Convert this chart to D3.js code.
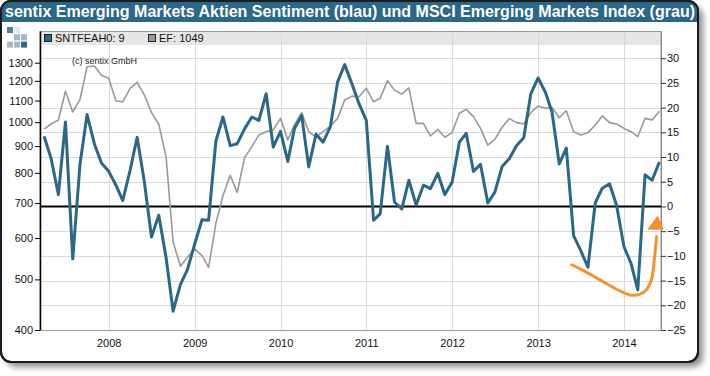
<!DOCTYPE html>
<html>
<head>
<meta charset="utf-8">
<script src="https://cdn.jsdelivr.net/npm/d3@7"></script>
<style>
  body { margin: 0; background: #fff; }
  svg { display: block; font-family: "Liberation Sans", Arial, sans-serif; }
</style>
</head>
<body>
<script>
// monthly data, Apr 2007 - Jun 2014
var startMonth = "2007-04-01";
var sentix = [14.2, 9.7, 2.4, 17.1, -10.6, 8.6, 18.6, 12.7, 8.8, 7.1,
  4.3, 1.2, 7.3, 14.0, 4.9, -6.2, -1.8, -10.3, -21.2, -15.8,
  -12.8, -7.6, -2.7, -2.8, 13.2, 18.1, 12.3, 12.7, 15.7, 18.1,
  17.4, 22.8, 12.0, 15.2, 9.1, 15.7, 18.4, 8.0, 14.6, 13.0,
  16.1, 25.2, 28.7, 24.8, 20.8, 17.4, -2.8, -1.5, 12.2, 0.9,
  -0.5, 5.3, 0.3, 4.3, 3.6, 6.7, 2.4, 4.9, 13.0, 14.8,
  7.1, 8.5, 0.7, 2.9, 8.1, 9.7, 12.3, 13.9, 22.8, 26.0,
  23.1, 19.1, 8.6, 11.8, -5.9, -8.9, -12.3, 0.7, 3.7, 4.6,
  0.2, -8.1, -11.6, -16.9, 6.4, 5.3, 9];
var msci = [970, 992, 1010, 1146, 1046, 1106, 1277, 1281, 1230, 1214,
  1098, 1094, 1161, 1192, 1127, 1044, 991, 859, 590, 530,
  551, 572, 555, 527, 640, 723, 791, 734, 855, 898,
  945, 959, 966, 1017, 925, 988, 1043, 959, 936, 959,
  983, 1017, 1103, 1122, 1119, 1161, 1094, 1111, 1201, 1152,
  1132, 1164, 995, 995, 941, 969, 936, 955, 1040, 1058,
  1025, 973, 904, 927, 978, 1016, 998, 992, 1043, 1074,
  1063, 1068, 1020, 1052, 959, 945, 955, 988, 1028, 998,
  992, 973, 959, 938, 1017, 1010, 1049];
var leftTicks = [400, 500, 600, 700, 800, 900, 1000, 1100, 1200, 1300];
var rightTicks = [-25, -20, -15, -10, -5, 0, 5, 10, 15, 20, 25, 30];
var yearTicks = [2008, 2009, 2010, 2011, 2012, 2013, 2014];
var legendItems = [
  { label: "SNTFEAH0: 9", color: "#2a6788" },
  { label: "EF: 1049", color: "#9a9a9a" }
];
// hand drawn orange arrow (date, sentiment value)
var arrowPath = [["2013-05-24", -11.8], ["2013-07-13", -13.0], ["2013-09-23", -14.9],
  ["2013-12-03", -16.8], ["2014-01-27", -17.9], ["2014-03-08", -17.8],
  ["2014-04-06", -16.9], ["2014-04-28", -14.9], ["2014-05-07", -12.2], ["2014-05-20", -6.1]];
var arrowHead = [["2014-05-24", -2.0], ["2014-04-14", -4.6], ["2014-06-17", -4.6]];
var title = "sentix Emerging Markets Aktien Sentiment (blau) und MSCI Emerging Markets Index (grau)";

var W = 710, H = 376;
var plot = { left: 40, right: 661, top: 31, bottom: 330 };
var parse = d3.timeParse("%Y-%m-%d");
var dates = sentix.map(function (d, i) { return d3.timeMonth.offset(parse(startMonth), i); });

// x: place Jan 2008 / Jan 2014 where the reference has them
var x0 = d3.scaleTime().domain([new Date(2008, 0, 1), new Date(2014, 0, 1)]).range([108.7, 623.9]);
var x = d3.scaleTime().domain([x0.invert(plot.left), x0.invert(plot.right)]).range([plot.left, plot.right]);
var yL = d3.scaleLog().domain([400, 1495]).range([plot.bottom, plot.top]);
var yR = d3.scaleLinear().domain([-25, 35.5]).range([plot.bottom, plot.top]);

var svg = d3.select("body").append("svg").attr("width", W).attr("height", H);
var defs = svg.append("defs");
var f = defs.append("filter").attr("id", "shadow").attr("x", "-5%").attr("y", "-5%").attr("width", "115%").attr("height", "120%");
f.append("feGaussianBlur").attr("stdDeviation", 3);

// frame + shadow
svg.append("rect").attr("x", 6).attr("y", 6).attr("width", 697).attr("height", 361).attr("rx", 10)
  .attr("fill", "#8a8a8a").attr("filter", "url(#shadow)");
svg.append("rect").attr("x", 1).attr("y", 1).attr("width", 697).attr("height", 361).attr("rx", 10)
  .attr("fill", "#fff").attr("stroke", "#1c1c1c").attr("stroke-width", 2);
defs.append("clipPath").attr("id", "frameclip").append("rect")
  .attr("x", 1).attr("y", 1).attr("width", 697).attr("height", 361).attr("rx", 10);
svg.append("rect").attr("x", 0).attr("y", 0).attr("width", W).attr("height", 22)
  .attr("fill", "#2a6788").attr("clip-path", "url(#frameclip)");
svg.append("rect").attr("x", 1).attr("y", 1).attr("width", 697).attr("height", 361).attr("rx", 10)
  .attr("fill", "none").attr("stroke", "#1c1c1c").attr("stroke-width", 2);
svg.append("text").attr("x", 5).attr("y", 17).attr("fill", "#fff")
  .attr("font-size", 16).attr("font-weight", "bold")
  .attr("textLength", 690).attr("lengthAdjust", "spacingAndGlyphs").text(title);

// logo squares
var logo = [[0, 0, "#4f7f9f"], [1, 0, "#dfe6ec"], [1, 1, "#a9b6c0"], [2, 1, "#a9b6c0"],
  [0, 2, "#a9b6c0"], [1, 2, "#a9b6c0"], [2, 2, "#2a6788"]];
svg.append("g").selectAll("rect").data(logo).enter().append("rect")
  .attr("x", function (d) { return 7 + d[0] * 7; })
  .attr("y", function (d) { return 27 + d[1] * 7.3; })
  .attr("width", 6).attr("height", 6).attr("fill", function (d) { return d[2]; });

// legend band
svg.append("rect").attr("x", plot.left).attr("y", plot.top).attr("width", plot.right - plot.left).attr("height", 14)
  .attr("fill", "#e6e6e6");

// grid
var grid = svg.append("g").attr("stroke", "#d9d9d9").attr("stroke-width", 1);
grid.selectAll(".v").data(yearTicks).enter().append("line")
  .attr("x1", function (d) { return Math.round(x(new Date(d, 0, 1))) + 0.5; })
  .attr("x2", function (d) { return Math.round(x(new Date(d, 0, 1))) + 0.5; })
  .attr("y1", plot.top).attr("y2", plot.bottom);
grid.selectAll(".h").data(rightTicks.filter(function (d) { return d !== 0 && d !== -25; })).enter().append("line")
  .attr("x1", plot.left).attr("x2", plot.right)
  .attr("y1", function (d) { return Math.round(yR(d)) + 0.5; })
  .attr("y2", function (d) { return Math.round(yR(d)) + 0.5; });

// plot border
svg.append("rect").attr("x", plot.left).attr("y", plot.top + 0.5).attr("width", plot.right - plot.left)
  .attr("height", plot.bottom - plot.top).attr("fill", "none").attr("stroke", "#999");

// legend
var lg = svg.append("g").attr("font-size", 11).attr("fill", "#111");
var lx = [44, 148];
legendItems.forEach(function (d, i) {
  lg.append("rect").attr("x", lx[i] + 0.5).attr("y", 34.5).attr("width", 7).attr("height", 7)
    .attr("fill", d.color).attr("stroke", "#222");
  lg.append("text").attr("x", lx[i] + 11).attr("y", 42).text(d.label);
});
svg.append("text").attr("x", 72).attr("y", 64).attr("font-size", 9).attr("fill", "#222").text("(c) sentix GmbH");

// zero line
svg.append("line").attr("x1", plot.left).attr("x2", plot.right)
  .attr("y1", yR(0)).attr("y2", yR(0)).attr("stroke", "#000").attr("stroke-width", 2);

// series
var grayLine = d3.line().x(function (d, i) { return x(dates[i]); }).y(function (d) { return yL(d); });
var blueLine = d3.line().x(function (d, i) { return x(dates[i]); }).y(function (d) { return yR(d); });
svg.append("path").datum(msci).attr("d", grayLine).attr("fill", "none")
  .attr("stroke", "#9a9a9a").attr("stroke-width", 1.6).attr("stroke-linejoin", "round");
svg.append("path").datum(sentix).attr("d", blueLine).attr("fill", "none")
  .attr("stroke", "#2a6788").attr("stroke-width", 3).attr("stroke-linejoin", "round");

// axes
var axL = svg.append("g").attr("transform", "translate(" + plot.left + ",0)")
  .call(d3.axisLeft(yL).tickValues(leftTicks).tickFormat(d3.format("d")).tickSize(5).tickSizeOuter(0));
var axR = svg.append("g").attr("transform", "translate(" + plot.right + ",0)")
  .call(d3.axisRight(yR).tickValues(rightTicks).tickFormat(d3.format("d")).tickSize(5).tickSizeOuter(0));
var axB = svg.append("g").attr("transform", "translate(0," + plot.bottom + ")")
  .call(d3.axisBottom(x).tickValues(yearTicks.map(function (d) { return new Date(d, 0, 1); }))
    .tickFormat(d3.timeFormat("%Y")).tickSize(0).tickPadding(9));
[axL, axR, axB].forEach(function (a) {
  a.selectAll("text").attr("font-size", 11).attr("fill", "#111").attr("font-family", "Liberation Sans, Arial, sans-serif");
});
axL.select(".domain").attr("stroke", "#000").attr("stroke-width", 1.5);
axL.selectAll(".tick line").attr("stroke", "#000");
axL.selectAll(".tick text").attr("x", -7);
axR.select(".domain").attr("stroke", "#888");
axR.selectAll(".tick line").attr("stroke", "#333");
axR.selectAll(".tick text").attr("x", 6);
axB.select(".domain").attr("stroke", "#999");

// orange arrow annotation
var arrowLine = d3.line().curve(d3.curveCatmullRom)
  .x(function (d) { return x(parse(d[0])); }).y(function (d) { return yR(d[1]); });
svg.append("path").datum(arrowPath).attr("d", arrowLine).attr("fill", "none")
  .attr("stroke", "#f7922e").attr("stroke-width", 3).attr("stroke-linecap", "round");
svg.append("path").datum(arrowHead)
  .attr("d", function (d) { return d3.line().x(function (p) { return x(parse(p[0])); }).y(function (p) { return yR(p[1]); })(d) + "Z"; })
  .attr("fill", "#f7922e").attr("stroke", "#f7922e").attr("stroke-linejoin", "round");
</script>
</body>
</html>
